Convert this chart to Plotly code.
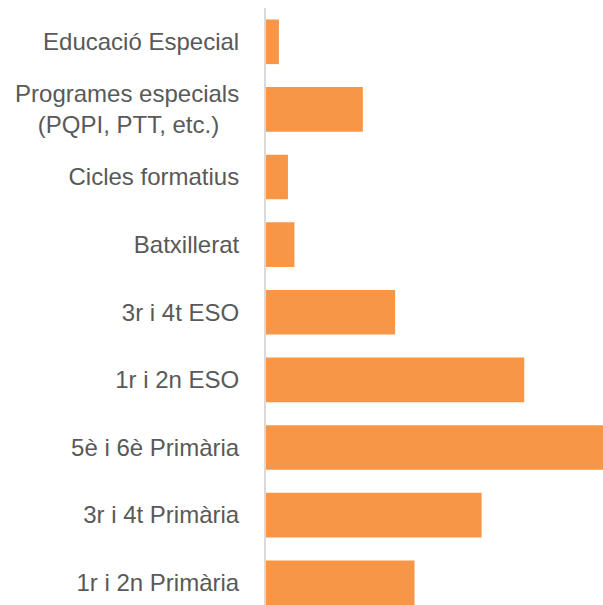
import plotly.graph_objects as go

categories = [
    "Educació Especial",
    "Programes especials<br>(PQPI, PTT, etc.)",
    "Cicles formatius",
    "Batxillerat",
    "3r i 4t ESO",
    "1r i 2n ESO",
    "5è i 6è Primària",
    "3r i 4t Primària",
    "1r i 2n Primària",
]
tick_labels = [
    "Educació Especial",
    "Programes especials<br>(PQPI, PTT, etc.)" + "\u00a0" * 3,
    "Cicles formatius",
    "Batxillerat",
    "3r i 4t ESO",
    "1r i 2n ESO",
    "5è i 6è Primària",
    "3r i 4t Primària",
    "1r i 2n Primària",
]
values = [1.0, 7.5, 1.7, 2.2, 10.0, 20.0, 27.0, 16.7, 11.5]

fig = go.Figure(
    go.Bar(
        x=values,
        y=categories,
        orientation="h",
        marker=dict(color="#F79646", line=dict(width=0)),
        hoverinfo="skip",
    )
)

fig.update_layout(
    width=603,
    height=605,
    margin=dict(l=266, r=0, t=8, b=0, pad=0),
    paper_bgcolor="white",
    plot_bgcolor="white",
    bargap=0.34,
    showlegend=False,
    font=dict(family="Liberation Sans, Arial, sans-serif", size=24, color="#595959"),
)
fig.update_xaxes(range=[0, 26.1], visible=False, fixedrange=True)
fig.update_yaxes(
    type="category",
    categoryorder="array",
    categoryarray=categories,
    tickvals=categories,
    ticktext=tick_labels,
    range=[8.33, -0.5],
    showline=True,
    linecolor="#D9D9D9",
    linewidth=2,
    showgrid=False,
    ticks="",
    ticklabelstandoff=20,
    zeroline=False,
    fixedrange=True,
)

fig.write_html(
    "out.html",
    config={"displayModeBar": False},
    post_script="document.body.style.margin='0';document.body.style.overflow='hidden';",
)
